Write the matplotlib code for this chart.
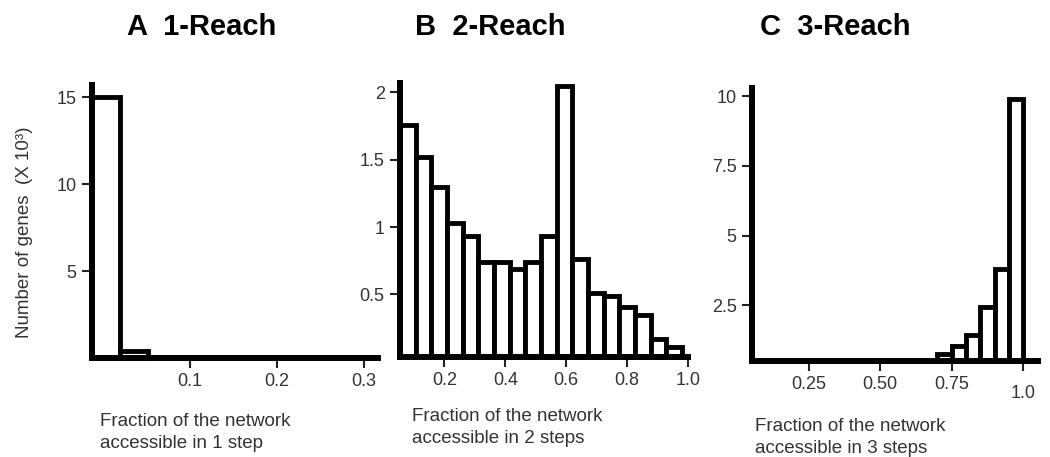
import matplotlib
matplotlib.use('Agg')
import matplotlib.pyplot as plt
import numpy as np

plt.rcParams['font.family'] = ['Liberation Sans', 'DejaVu Sans']

# A  1-Reach (counts in thousands of genes)
edges_a = [-0.0125, 0.0195, 0.0515]
counts_a = [15.0, 0.4]
xticks_a = [0.1, 0.2, 0.3]
xlabels_a = ['0.1', '0.2', '0.3']
yticks_a = [5, 10, 15]
ylabels_a = ['5', '10', '15']

# B  2-Reach
edges_b = np.linspace(0.054, 0.98, 19)
counts_b = [1.76, 1.52, 1.30, 1.03, 0.93, 0.74, 0.74, 0.69, 0.74,
            0.93, 2.05, 0.76, 0.51, 0.49, 0.41, 0.35, 0.17, 0.11]
xticks_b = [0.2, 0.4, 0.6, 0.8, 1.0]
xlabels_b = ['0.2', '0.4', '0.6', '0.8', '1.0']
yticks_b = [0.5, 1, 1.5, 2]
ylabels_b = ['0.5', '1', '1.5', '2']

# C  3-Reach
edges_c = [0.70, 0.75, 0.80, 0.85, 0.90, 0.95, 1.00]
counts_c = [0.75, 1.05, 1.45, 2.45, 3.8, 9.9]
xticks_c = [0.25, 0.50, 0.75, 1.0]
xlabels_c = ['0.25', '0.50', '0.75', '1.0']
yticks_c = [2.5, 5, 7.5, 10]
ylabels_c = ['2.5', '5', '7.5', '10']

W, H = 1050, 457
fig = plt.figure(figsize=(W / 100, H / 100), dpi=100)

panels = [
    # rect in pixels: left, top, right, bottom
    dict(rect=(92, 85, 378, 358), edges=edges_a, counts=counts_a,
         xlim=(-0.0125, 0.316), ylim=(0, 15.7),
         xt=xticks_a, xl=xlabels_a, yt=yticks_a, yl=ylabels_a,
         title='A  1-Reach', tx=127, lab='Fraction of the network\naccessible in 1 step',
         lx=100, ly=413),
    dict(rect=(400, 83, 688, 357), edges=edges_b, counts=counts_b,
         xlim=(0.054, 1.0), ylim=(0.035, 2.07),
         xt=xticks_b, xl=xlabels_b, yt=yticks_b, yl=ylabels_b,
         title='B  2-Reach', tx=415, lab='Fraction of the network\naccessible in 2 steps',
         lx=412, ly=408),
    dict(rect=(752, 88, 1038, 361), edges=edges_c, counts=counts_c,
         xlim=(0.052, 1.052), ylim=(0.5, 10.3),
         xt=xticks_c, xl=xlabels_c, yt=yticks_c, yl=ylabels_c,
         title='C  3-Reach', tx=760, lab='Fraction of the network\naccessible in 3 steps',
         lx=755, ly=418),
]

for p in panels:
    l, t, r, b = p['rect']
    ax = fig.add_axes([l / W, 1 - b / H, (r - l) / W, (b - t) / H])
    edges = np.asarray(p['edges'])
    counts = np.asarray(p['counts'])
    ylo = p['ylim'][0]
    ax.bar(edges[:-1], counts - ylo, width=np.diff(edges), bottom=ylo,
           align='edge', facecolor='white', edgecolor='black', linewidth=3.5,
           clip_on=False, zorder=2)
    ax.set_xlim(*p['xlim'])
    ax.set_ylim(*p['ylim'])
    ax.set_xticks(p['xt'])
    ax.set_xticklabels(p['xl'])
    ax.set_yticks(p['yt'])
    ax.set_yticklabels(p['yl'])
    for s in ['top', 'right']:
        ax.spines[s].set_visible(False)
    for s in ['left', 'bottom']:
        ax.spines[s].set_linewidth(4.3)
        ax.spines[s].set_capstyle('projecting')
        ax.spines[s].set_zorder(3)
    ax.tick_params(direction='out', length=7, width=1.5, color='#222222',
                   labelsize=13, labelcolor='#333333', pad=4)
    ax.patch.set_visible(False)

    fig.text(p['tx'] / W, 1 - 35 / H, p['title'], fontsize=21, fontweight='bold',
             ha='left', va='baseline')
    fig.text(p['lx'] / W, 1 - p['ly'] / H, p['lab'], fontsize=13.5, color='#333333',
             ha='left', va='top', linespacing=1.4)

    if p['title'].startswith('C'):
        ax.xaxis.get_major_ticks()[-1].set_pad(10)

fig.text(25 / W, 1 - 232 / H, 'Number of genes  (X 10³)', rotation=90,
         fontsize=13.5, color='#333333', ha='center', va='center')

plt.savefig('out.png', dpi=100)
